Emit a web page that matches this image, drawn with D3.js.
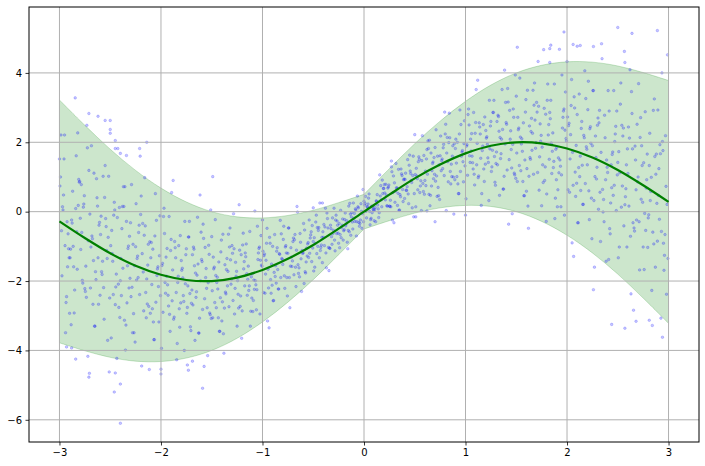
<!DOCTYPE html>
<html>
<head>
<meta charset="utf-8">
<script src="https://cdn.jsdelivr.net/npm/d3@7"></script>
<style>
  body { margin: 0; background: #fff; }
  svg { display: block; font-family: "DejaVu Sans", sans-serif; }
</style>
</head>
<body>
<div id="chart"></div>
<script>
// mean curve and band, every 0.25
const lineX = [-3, -2.75, -2.5, -2.25, -2, -1.75, -1.5, -1.25, -1, -0.75, -0.5, -0.25, 0,
               0.25, 0.5, 0.75, 1, 1.25, 1.5, 1.75, 2, 2.25, 2.5, 2.75, 3];
const lineY = [-0.28, -0.76, -1.2, -1.56, -1.82, -1.97, -2.0, -1.9, -1.68, -1.36, -0.96, -0.49, 0,
               0.49, 0.96, 1.36, 1.68, 1.9, 2.0, 1.97, 1.82, 1.56, 1.2, 0.76, 0.28];
const bandUpper = [3.22, 2.49, 1.8, 1.19, 0.68, 0.28, 0.0, -0.15, -0.18, -0.11, 0.04, 0.26, 0.5,
                   1.24, 1.96, 2.61, 3.18, 3.65, 4.0, 4.22, 4.32, 4.31, 4.2, 4.01, 3.78];
const bandLower = [-3.78, -4.01, -4.2, -4.31, -4.32, -4.22, -4.0, -3.65, -3.18, -2.61, -1.96, -1.24, -0.5,
                   -0.26, -0.04, 0.11, 0.18, 0.15, 0.0, -0.28, -0.68, -1.19, -1.8, -2.49, -3.22];

// scatter samples (estimated from the cloud)
const pointX = [
  -2.97,-2.93,-2.99,-2.91,-2.95,-2.98,-2.92,-2.96,-2.94,-3.00,
  -2.83,-2.89,-2.81,-2.85,-2.88,-2.82,-2.86,-2.84,-2.90,-2.87,
  -2.79,-2.71,-2.75,-2.78,-2.72,-2.76,-2.74,-2.80,-2.77,-2.73,
  -2.61,-2.65,-2.68,-2.62,-2.66,-2.64,-2.70,-2.67,-2.63,-2.69,
  -2.55,-2.58,-2.52,-2.56,-2.54,-2.60,-2.57,-2.53,-2.59,-2.51,
  -2.48,-2.42,-2.46,-2.44,-2.50,-2.47,-2.43,-2.49,-2.41,-2.45,
  -2.32,-2.36,-2.34,-2.40,-2.37,-2.33,-2.39,-2.31,-2.35,-2.38,
  -2.26,-2.24,-2.30,-2.27,-2.23,-2.29,-2.21,-2.25,-2.28,-2.22,
  -2.14,-2.20,-2.17,-2.13,-2.19,-2.11,-2.15,-2.18,-2.12,-2.16,
  -2.10,-2.07,-2.03,-2.09,-2.01,-2.05,-2.08,-2.02,-2.06,-2.04,
  -1.97,-1.93,-1.99,-1.91,-1.95,-1.98,-1.92,-1.96,-1.94,-2.00,
  -1.83,-1.89,-1.81,-1.85,-1.88,-1.82,-1.86,-1.84,-1.90,-1.87,
  -1.79,-1.71,-1.75,-1.78,-1.72,-1.76,-1.74,-1.80,-1.77,-1.73,
  -1.61,-1.65,-1.68,-1.62,-1.66,-1.64,-1.70,-1.67,-1.63,-1.69,
  -1.55,-1.58,-1.52,-1.56,-1.54,-1.60,-1.57,-1.53,-1.59,-1.51,
  -1.48,-1.42,-1.46,-1.44,-1.50,-1.47,-1.43,-1.49,-1.41,-1.45,
  -1.32,-1.36,-1.34,-1.40,-1.37,-1.33,-1.39,-1.31,-1.35,-1.38,
  -1.26,-1.24,-1.30,-1.27,-1.23,-1.29,-1.21,-1.25,-1.28,-1.22,
  -1.14,-1.20,-1.17,-1.13,-1.19,-1.11,-1.15,-1.18,-1.12,-1.16,
  -1.10,-1.07,-1.03,-1.09,-1.01,-1.05,-1.08,-1.02,-1.06,-1.04,
  -0.97,-0.93,-0.99,-0.91,-0.95,-0.98,-0.92,-0.96,-0.94,-1.00,
  -0.83,-0.89,-0.81,-0.85,-0.88,-0.82,-0.86,-0.84,-0.90,-0.87,
  -0.79,-0.71,-0.75,-0.78,-0.72,-0.76,-0.74,-0.80,-0.77,-0.73,
  -0.61,-0.65,-0.68,-0.62,-0.66,-0.64,-0.70,-0.67,-0.63,-0.69,
  -0.55,-0.58,-0.52,-0.56,-0.54,-0.60,-0.57,-0.53,-0.59,-0.51,
  -0.48,-0.42,-0.46,-0.44,-0.50,-0.47,-0.43,-0.49,-0.41,-0.45,
  -0.32,-0.36,-0.34,-0.40,-0.37,-0.33,-0.39,-0.31,-0.35,-0.38,
  -0.26,-0.24,-0.30,-0.27,-0.23,-0.29,-0.21,-0.25,-0.28,-0.22,
  -0.14,-0.20,-0.17,-0.13,-0.19,-0.11,-0.15,-0.18,-0.12,-0.16,
  -0.10,-0.07,-0.03,-0.09,-0.01,-0.05,-0.08,-0.02,-0.06,-0.04,
  0.03,0.07,0.01,0.09,0.05,0.02,0.08,0.04,0.06,0.00,
  0.17,0.11,0.19,0.15,0.12,0.18,0.14,0.16,0.10,0.13,
  0.21,0.29,0.25,0.22,0.28,0.24,0.26,0.20,0.23,0.27,
  0.39,0.35,0.32,0.38,0.34,0.36,0.30,0.33,0.37,0.31,
  0.45,0.42,0.48,0.44,0.46,0.40,0.43,0.47,0.41,0.49,
  0.52,0.58,0.54,0.56,0.50,0.53,0.57,0.51,0.59,0.55,
  0.68,0.64,0.66,0.60,0.63,0.67,0.61,0.69,0.65,0.62,
  0.74,0.76,0.70,0.73,0.77,0.71,0.79,0.75,0.72,0.78,
  0.86,0.80,0.83,0.87,0.81,0.89,0.85,0.82,0.88,0.84,
  0.90,0.93,0.97,0.91,0.99,0.95,0.92,0.98,0.94,0.96,
  1.03,1.07,1.01,1.09,1.05,1.02,1.08,1.04,1.06,1.00,
  1.17,1.11,1.19,1.15,1.12,1.18,1.14,1.16,1.10,1.13,
  1.21,1.29,1.25,1.22,1.28,1.24,1.26,1.20,1.23,1.27,
  1.39,1.35,1.32,1.38,1.34,1.36,1.30,1.33,1.37,1.31,
  1.45,1.42,1.48,1.44,1.46,1.40,1.43,1.47,1.41,1.49,
  1.52,1.58,1.54,1.56,1.50,1.53,1.57,1.51,1.59,1.55,
  1.68,1.64,1.66,1.60,1.63,1.67,1.61,1.69,1.65,1.62,
  1.74,1.76,1.70,1.73,1.77,1.71,1.79,1.75,1.72,1.78,
  1.86,1.80,1.83,1.87,1.81,1.89,1.85,1.82,1.88,1.84,
  1.90,1.93,1.97,1.91,1.99,1.95,1.92,1.98,1.94,1.96,
  2.03,2.07,2.01,2.09,2.05,2.02,2.08,2.04,2.06,2.00,
  2.17,2.11,2.19,2.15,2.12,2.18,2.14,2.16,2.10,2.13,
  2.21,2.29,2.25,2.22,2.28,2.24,2.26,2.20,2.23,2.27,
  2.39,2.35,2.32,2.38,2.34,2.36,2.30,2.33,2.37,2.31,
  2.45,2.42,2.48,2.44,2.46,2.40,2.43,2.47,2.41,2.49,
  2.52,2.58,2.54,2.56,2.50,2.53,2.57,2.51,2.59,2.55,
  2.68,2.64,2.66,2.60,2.63,2.67,2.61,2.69,2.65,2.62,
  2.74,2.76,2.70,2.73,2.77,2.71,2.79,2.75,2.72,2.78,
  2.86,2.80,2.83,2.87,2.81,2.89,2.85,2.82,2.88,2.84,
  2.90,2.93,2.97,2.91,2.99,2.95,2.92,2.98,2.94,2.96,
  -2.945,-2.985,-2.915,-2.965,-2.935,-2.995,-2.905,-2.955,-2.975,-2.925,
  -2.885,-2.815,-2.865,-2.835,-2.895,-2.805,-2.855,-2.875,-2.825,-2.845,
  -2.715,-2.765,-2.735,-2.795,-2.705,-2.755,-2.775,-2.725,-2.745,-2.785,
  -2.665,-2.635,-2.695,-2.605,-2.655,-2.675,-2.625,-2.645,-2.685,-2.615,
  -2.535,-2.595,-2.505,-2.555,-2.575,-2.525,-2.545,-2.585,-2.515,-2.565,
  -2.495,-2.405,-2.455,-2.475,-2.425,-2.445,-2.485,-2.415,-2.465,-2.435,
  -2.305,-2.355,-2.375,-2.325,-2.345,-2.385,-2.315,-2.365,-2.335,-2.395,
  -2.255,-2.275,-2.225,-2.245,-2.285,-2.215,-2.265,-2.235,-2.295,-2.205,
  -2.175,-2.125,-2.145,-2.185,-2.115,-2.165,-2.135,-2.195,-2.105,-2.155,
  -2.025,-2.045,-2.085,-2.015,-2.065,-2.035,-2.095,-2.005,-2.055,-2.075,
  -1.945,-1.985,-1.915,-1.965,-1.935,-1.995,-1.905,-1.955,-1.975,-1.925,
  -1.885,-1.815,-1.865,-1.835,-1.895,-1.805,-1.855,-1.875,-1.825,-1.845,
  -1.715,-1.765,-1.735,-1.795,-1.705,-1.755,-1.775,-1.725,-1.745,-1.785,
  -1.665,-1.635,-1.695,-1.605,-1.655,-1.675,-1.625,-1.645,-1.685,-1.615,
  -1.535,-1.595,-1.505,-1.555,-1.575,-1.525,-1.545,-1.585,-1.515,-1.565,
  -1.495,-1.405,-1.455,-1.475,-1.425,-1.445,-1.485,-1.415,-1.465,-1.435,
  -1.305,-1.355,-1.375,-1.325,-1.345,-1.385,-1.315,-1.365,-1.335,-1.395,
  -1.255,-1.275,-1.225,-1.245,-1.285,-1.215,-1.265,-1.235,-1.295,-1.205,
  -1.175,-1.125,-1.145,-1.185,-1.115,-1.165,-1.135,-1.195,-1.105,-1.155,
  -1.025,-1.045,-1.085,-1.015,-1.065,-1.035,-1.095,-1.005,-1.055,-1.075,
  -0.945,-0.985,-0.915,-0.965,-0.935,-0.995,-0.905,-0.955,-0.975,-0.925,
  -0.885,-0.815,-0.865,-0.835,-0.895,-0.805,-0.855,-0.875,-0.825,-0.845,
  -0.715,-0.765,-0.735,-0.795,-0.705,-0.755,-0.775,-0.725,-0.745,-0.785,
  -0.665,-0.635,-0.695,-0.605,-0.655,-0.675,-0.625,-0.645,-0.685,-0.615,
  -0.535,-0.595,-0.505,-0.555,-0.575,-0.525,-0.545,-0.585,-0.515,-0.565,
  -0.495,-0.405,-0.455,-0.475,-0.425,-0.445,-0.485,-0.415,-0.465,-0.435,
  -0.305,-0.355,-0.375,-0.325,-0.345,-0.385,-0.315,-0.365,-0.335,-0.395,
  -0.255,-0.275,-0.225,-0.245,-0.285,-0.215,-0.265,-0.235,-0.295,-0.205,
  -0.175,-0.125,-0.145,-0.185,-0.115,-0.165,-0.135,-0.195,-0.105,-0.155,
  -0.025,-0.045,-0.085,-0.015,-0.065,-0.035,-0.095,-0.005,-0.055,-0.075,
  0.055,0.015,0.085,0.035,0.065,0.005,0.095,0.045,0.025,0.075,
  0.115,0.185,0.135,0.165,0.105,0.195,0.145,0.125,0.175,0.155,
  0.285,0.235,0.265,0.205,0.295,0.245,0.225,0.275,0.255,0.215,
  0.335,0.365,0.305,0.395,0.345,0.325,0.375,0.355,0.315,0.385,
  0.465,0.405,0.495,0.445,0.425,0.475,0.455,0.415,0.485,0.435,
  0.505,0.595,0.545,0.525,0.575,0.555,0.515,0.585,0.535,0.565,
  0.695,0.645,0.625,0.675,0.655,0.615,0.685,0.635,0.665,0.605,
  0.745,0.725,0.775,0.755,0.715,0.785,0.735,0.765,0.705,0.795,
  0.825,0.875,0.855,0.815,0.885,0.835,0.865,0.805,0.895,0.845,
  0.975,0.955,0.915,0.985,0.935,0.965,0.905,0.995,0.945,0.925,
  1.055,1.015,1.085,1.035,1.065,1.005,1.095,1.045,1.025,1.075,
  1.115,1.185,1.135,1.165,1.105,1.195,1.145,1.125,1.175,1.155,
  1.285,1.235,1.265,1.205,1.295,1.245,1.225,1.275,1.255,1.215,
  1.335,1.365,1.305,1.395,1.345,1.325,1.375,1.355,1.315,1.385,
  1.465,1.405,1.495,1.445,1.425,1.475,1.455,1.415,1.485,1.435,
  1.505,1.595,1.545,1.525,1.575,1.555,1.515,1.585,1.535,1.565,
  1.695,1.645,1.625,1.675,1.655,1.615,1.685,1.635,1.665,1.605,
  1.745,1.725,1.775,1.755,1.715,1.785,1.735,1.765,1.705,1.795,
  1.825,1.875,1.855,1.815,1.885,1.835,1.865,1.805,1.895,1.845,
  1.975,1.955,1.915,1.985,1.935,1.965,1.905,1.995,1.945,1.925,
  2.055,2.015,2.085,2.035,2.065,2.005,2.095,2.045,2.025,2.075,
  2.115,2.185,2.135,2.165,2.105,2.195,2.145,2.125,2.175,2.155,
  2.285,2.235,2.265,2.205,2.295,2.245,2.225,2.275,2.255,2.215,
  2.335,2.365,2.305,2.395,2.345,2.325,2.375,2.355,2.315,2.385,
  2.465,2.405,2.495,2.445,2.425,2.475,2.455,2.415,2.485,2.435,
  2.505,2.595,2.545,2.525,2.575,2.555,2.515,2.585,2.535,2.565,
  2.695,2.645,2.625,2.675,2.655,2.615,2.685,2.635,2.665,2.605,
  2.745,2.725,2.775,2.755,2.715,2.785,2.735,2.765,2.705,2.795,
  2.825,2.875,2.855,2.815,2.885,2.835,2.865,2.805,2.895,2.845,
  2.975,2.955,2.915,2.985,2.935,2.965,2.905,2.995,2.945,2.925,
  -2.46,-2.40,-2.45,-2.71,-2.84,-2.40,-2.00,-1.59,-1.74,-1.73,-1.69,-2.93,-2.88,
  -2.71,-2.62,-2.55,-2.50,-2.50,-2.45,-2.45,-2.40,-2.34,-2.21,-2.14,-1.49,
  1.97,2.50,2.64,2.89,1.84,1.83,2.06,2.10,2.13,2.26,2.57,1.83,1.51,
  2.44,2.57,2.68,2.81,2.94,2.26,
  -0.41,-0.50,0.27,0.70,0.62,0.51
];
const pointY = [
  0.14,-2.45,1.00,-1.07,2.21,-0.55,-1.59,0.48,-3.49,1.52,
  -0.58,-1.08,0.93,-2.26,-0.24,2.27,-1.59,0.09,-2.93,0.59,
  -1.09,1.19,-2.22,-0.60,-4.17,0.22,-1.57,0.87,-2.06,2.49,
  -0.39,-3.30,-0.70,-1.33,1.11,-1.96,-0.07,-2.67,0.40,-1.02,
  1.33,-1.81,-0.74,-3.10,-0.43,-2.41,1.02,-1.35,-0.13,-4.62,
  -1.21,-2.09,0.27,-1.80,2.26,-2.39,-0.17,-3.64,0.12,-2.68,
  -0.99,-3.13,-0.28,-1.99,0.72,-1.56,-2.42,-0.71,-3.99,0.15,
  -1.56,-1.97,-0.32,-2.94,-1.28,0.78,-2.39,-1.01,-3.49,-0.60,
  -1.94,-0.08,-2.86,-1.54,-4.45,-0.87,-2.33,-0.34,-2.73,0.98,
  -1.33,-3.69,-1.59,-2.10,-0.12,-2.61,-1.08,-3.18,-0.70,-1.84,
  0.10,-2.41,-1.55,-3.45,-1.31,-2.90,-0.14,-2.04,-1.06,-4.68,
  -1.86,-2.57,-0.69,-2.33,0.90,-2.80,-1.04,-3.80,-0.80,-3.04,
  -1.63,-3.32,-1.07,-2.42,-0.28,-2.08,-2.76,-1.41,-4.00,-0.73,
  -1.99,-2.31,-1.02,-3.07,-1.77,-0.16,-2.64,-1.56,-3.50,-1.24,
  -2.21,-0.77,-2.92,-1.90,-4.15,-1.38,-2.51,-0.97,-2.82,0.05,
  -1.65,-3.45,-1.84,-2.23,-0.72,-2.62,-1.45,-3.06,-1.16,-2.04,
  -0.47,-2.37,-1.72,-3.15,-1.53,-2.74,-0.65,-2.09,-1.35,-4.08,
  -1.86,-2.38,-0.98,-2.21,0.20,-2.56,-1.24,-3.30,-1.07,-2.73,
  -1.57,-2.86,-1.19,-2.14,-0.62,-1.88,-2.41,-1.44,-3.30,-0.93,
  -1.79,-1.99,-1.02,-2.56,-1.54,-0.42,-2.24,-1.40,-2.83,-1.19,
  -1.80,-0.74,-2.33,-1.51,-3.15,-1.22,-1.96,-0.91,-2.20,-0.24,
  -1.23,-2.56,-1.35,-1.67,-0.66,-1.90,-1.14,-2.23,-1.00,-1.56,
  -0.42,-1.58,-1.20,-2.21,-1.04,-1.90,-0.47,-1.52,-0.98,-2.77,
  -1.12,-1.53,-0.66,-1.36,0.15,-1.62,-0.86,-2.16,-0.63,-1.82,
  -0.89,-1.73,-0.58,-1.28,-0.24,-1.19,-1.45,-0.76,-2.07,-0.40,
  -0.92,-0.96,-0.46,-1.33,-0.86,-0.10,-1.12,-0.75,-1.47,-0.54,
  -0.72,-0.20,-1.05,-0.74,-1.62,-0.39,-0.98,-0.18,-1.03,0.10,
  -0.39,-1.04,-0.54,-0.63,0.04,-0.82,-0.21,-0.91,-0.24,-0.46,
  0.24,-0.55,-0.26,-0.68,-0.23,-0.50,0.16,-0.41,-0.03,-1.07,
  -0.19,-0.29,0.23,-0.28,0.64,-0.31,0.05,-0.48,0.14,-0.34,
  0.14,-0.19,0.24,0.07,0.51,0.01,-0.03,0.22,-0.38,0.30,
  0.34,0.12,0.67,-0.03,0.31,0.91,0.08,0.45,-0.26,0.49,
  0.34,1.03,0.16,0.48,-0.24,0.71,0.33,0.78,0.16,1.29,
  0.92,0.05,0.69,0.64,1.22,0.43,0.83,0.18,1.09,0.59,
  1.63,0.61,1.04,0.23,1.10,0.38,1.50,0.84,1.11,-0.15,
  1.03,0.81,1.58,0.89,2.22,0.63,1.47,0.14,1.62,0.55,
  1.43,0.50,1.69,0.90,2.04,1.18,0.75,1.56,0.17,1.79,
  1.35,1.18,1.85,0.70,1.52,2.36,1.04,1.61,0.44,1.84,
  1.37,2.24,0.86,1.60,0.03,1.96,1.16,2.14,1.00,2.84,
  1.82,0.52,1.76,1.40,2.62,1.16,2.00,0.86,2.24,1.60,
  2.96,1.41,1.89,0.77,2.09,1.05,2.86,1.61,2.25,-0.10,
  1.89,1.35,2.73,1.54,3.79,1.23,2.44,0.52,2.57,1.03,
  2.16,0.85,2.60,1.55,3.21,1.81,1.29,2.34,0.32,2.86,
  1.95,1.67,2.78,1.02,2.14,3.52,1.39,2.32,0.65,2.60,
  1.79,3.16,1.11,2.09,-0.06,2.57,1.50,2.96,1.20,3.94,
  2.36,0.46,2.15,1.74,3.33,1.33,2.56,0.87,2.87,1.95,
  3.71,1.51,2.26,0.59,2.47,1.08,3.50,1.83,2.69,-0.48,
  2.03,1.35,3.15,1.58,4.67,1.13,2.81,0.17,3.04,0.90,
  2.27,0.51,2.86,1.45,3.68,1.80,1.10,2.51,-0.20,3.21,
  1.86,1.49,2.96,0.63,2.11,3.94,1.12,2.35,0.14,2.72,
  1.52,3.31,0.63,1.91,-0.90,2.55,1.14,3.06,0.76,4.33,
  2.13,-0.32,1.87,1.34,3.39,0.81,2.40,0.21,2.80,1.60,
  3.76,0.94,1.90,-0.23,2.18,0.39,3.49,1.35,2.45,-1.60,
  1.49,0.64,2.92,0.92,4.84,0.35,2.49,-0.86,2.78,0.07,
  1.72,-0.49,2.46,0.69,3.49,1.13,0.25,2.02,-1.38,2.90,
  1.12,0.66,2.49,-0.41,1.42,3.71,0.20,1.73,-1.02,2.18,
  0.63,2.83,-0.47,1.10,-2.37,1.89,0.16,2.52,-0.32,4.09,
  1.33,-1.67,1.00,0.36,2.88,-0.29,1.66,-1.02,2.14,0.68,
  3.25,-0.18,0.99,-1.60,1.33,-0.85,2.92,0.32,1.66,-3.28,
  0.47,-0.57,2.19,-0.22,4.52,-0.91,1.67,-2.38,2.02,-1.26,
  -0.98,2.21,-0.64,0.05,-2.62,0.74,-1.33,1.52,-1.85,-0.29,
  -3.26,0.18,-1.00,1.61,-1.33,0.85,-2.92,-0.33,-1.66,3.28,
  -0.84,0.13,-2.47,-0.19,-4.66,0.46,-1.98,1.84,-2.30,0.78,
  -1.41,0.95,-2.20,-0.31,-3.30,-0.78,0.16,-1.73,1.90,-2.67,
  -1.12,-0.66,-2.49,0.41,-1.43,-3.71,-0.20,-1.73,1.02,-2.19,
  -0.98,-3.05,0.05,-1.43,1.82,-2.17,-0.54,-2.76,-0.10,-4.23,
  -1.92,0.72,-1.63,-1.06,-3.27,-0.49,-2.20,0.15,-2.63,-1.35,
  -3.76,-0.94,-1.90,0.23,-2.18,-0.39,-3.49,-1.35,-2.45,1.60,
  -1.74,-0.94,-3.06,-1.21,-4.55,-0.68,-2.66,0.45,-2.93,-0.41,
  -2.16,-0.25,-2.80,-1.27,-3.69,-1.65,-0.89,-2.42,0.52,-3.18,
  -1.86,-1.49,-2.96,-0.63,-2.11,-3.94,-1.12,-2.35,-0.14,-2.72,
  -1.68,-3.33,-0.86,-2.04,0.55,-2.63,-1.33,-3.10,-0.98,-4.27,
  -2.36,-0.28,-2.14,-1.69,-3.43,-1.24,-2.59,-0.73,-2.93,-1.91,
  -3.71,-1.51,-2.26,-0.59,-2.47,-1.08,-3.50,-1.83,-2.69,0.48,
  -2.05,-1.44,-3.08,-1.64,-4.46,-1.23,-2.77,-0.36,-2.97,-1.03,
  -2.28,-0.82,-2.77,-1.60,-3.45,-1.89,-1.31,-2.48,-0.23,-3.06,
  -1.95,-1.67,-2.78,-1.02,-2.14,-3.52,-1.39,-2.32,-0.65,-2.60,
  -1.72,-2.95,-1.11,-1.99,-0.06,-2.43,-1.46,-2.78,-1.20,-3.65,
  -2.14,-0.57,-1.95,-1.65,-2.87,-1.30,-2.27,-0.96,-2.49,-1.79,
  -2.95,-1.38,-1.97,-0.69,-2.11,-1.06,-2.88,-1.57,-2.25,0.02,
  -1.66,-1.27,-2.35,-1.40,-3.35,-1.14,-2.12,-0.48,-2.35,-0.91,
  -1.75,-0.64,-2.06,-1.21,-2.57,-1.37,-1.04,-1.87,-0.25,-2.23,
  -1.31,-1.19,-1.90,-0.80,-1.42,-2.43,-1.02,-1.57,-0.47,-1.85,
  -1.11,-1.88,-0.76,-1.20,-0.01,-1.60,-0.88,-1.78,-0.81,-2.30,
  -1.20,-0.34,-1.05,-0.93,-1.77,-0.67,-1.32,-0.53,-1.44,-1.05,
  -1.71,-0.58,-1.00,-0.30,-1.03,-0.46,-1.60,-0.74,-1.21,0.25,
  -0.63,-0.47,-1.19,-0.49,-1.70,-0.44,-0.94,-0.04,-1.06,-0.37,
  -0.62,-0.10,-0.75,-0.34,-1.13,-0.39,-0.27,-0.66,0.10,-0.82,
  -0.35,-0.15,-0.58,-0.04,-0.30,-0.88,-0.07,-0.52,0.25,-0.54,
  0.01,-0.42,0.08,-0.06,0.45,-0.24,-0.05,-0.29,0.11,-0.70,
  0.01,0.44,0.13,0.14,-0.23,0.19,0.04,0.39,-0.18,0.16,
  -0.29,0.52,0.19,0.75,0.06,0.67,-0.17,0.30,0.14,1.06,
  0.55,0.68,0.14,0.54,-0.32,0.77,0.17,1.15,0.15,0.79,
  0.53,1.23,0.27,0.94,0.04,0.68,1.04,0.49,1.39,0.29,
  0.90,0.93,0.52,1.34,0.72,0.11,1.17,0.62,1.60,0.51,
  1.07,0.50,1.51,0.95,2.19,0.74,1.25,0.58,1.44,0.03,
  1.08,2.06,1.08,1.39,0.47,1.52,0.95,1.82,0.74,1.17,
  0.35,1.60,1.24,2.18,1.03,1.94,0.46,1.47,0.88,2.87,
  1.44,1.90,0.80,1.69,-0.07,1.99,1.01,2.52,0.92,2.13,
  1.44,2.51,1.01,1.96,0.52,1.72,2.09,1.32,2.93,0.80,
  1.75,1.93,1.08,2.50,1.60,0.37,2.26,1.42,2.80,1.23,
  1.97,0.87,2.56,1.76,3.52,1.37,2.24,0.98,2.51,0.18,
  1.59,3.21,1.77,2.12,0.76,2.47,1.42,2.86,1.16,1.94,
  0.47,2.37,1.72,3.15,1.53,2.74,0.65,2.09,1.35,4.08,
  1.94,2.52,0.96,2.33,-0.36,2.72,1.26,3.55,1.06,2.92,
  1.69,3.23,1.18,2.41,0.46,2.10,2.72,1.49,3.85,0.87,
  1.99,2.31,1.02,3.07,1.77,0.16,2.64,1.56,3.50,1.24,
  2.20,0.62,2.98,1.86,4.33,1.29,2.53,0.84,2.87,-0.28,
  1.51,3.68,1.74,2.21,0.39,2.68,1.27,3.21,0.92,1.98,
  -0.10,2.41,1.55,3.45,1.31,2.90,0.14,2.04,1.06,4.68,
  1.71,2.48,0.44,2.22,-1.29,2.73,0.82,3.81,0.56,2.99,
  1.27,3.26,0.61,2.20,-0.32,1.80,2.60,1.01,4.06,0.21,
  1.56,1.97,0.32,2.94,1.28,-0.78,2.39,1.01,3.49,0.60,
  1.71,-0.29,2.70,1.28,4.41,0.56,2.13,-0.01,2.56,-1.43,
  0.76,3.49,1.06,1.65,-0.64,2.24,0.47,2.90,0.03,1.35,
  -1.33,1.81,0.74,3.10,0.43,2.41,-1.02,1.35,0.13,4.62,
  0.86,1.81,-0.71,1.49,-2.84,2.12,-0.24,3.46,-0.56,2.44,
  0.27,2.71,-0.54,1.41,-1.68,0.92,1.90,-0.05,3.69,-1.03,
  0.58,1.08,-0.93,2.26,0.24,-2.27,1.59,-0.09,2.93,-0.59,
  0.73,-1.69,1.93,0.21,4.00,-0.66,1.24,-1.35,1.76,-3.07,
  -5.20,-4.97,-4.65,-4.77,-4.25,-6.10,-4.54,-5.09,-4.42,-4.57,-4.31,-3.90,-3.93,
  2.83,2.75,2.63,2.63,2.37,2.05,1.82,1.68,1.62,1.82,2.00,1.01,
  5.18,5.31,5.14,5.22,4.80,4.70,4.82,4.77,4.79,4.76,4.30,4.30,4.74,
  -3.25,-3.36,-3.16,-3.13,-3.62,-2.25,
  0.25,0.11,1.46,-0.29,0.02,-0.15
];

const xTicks = [-3, -2, -1, 0, 1, 2, 3];
const yTicks = [-6, -4, -2, 0, 2, 4];

const width = 705, height = 466;
const margin = {top: 7, right: 6, bottom: 24, left: 29};

const x = d3.scaleLinear().domain([-3.3, 3.3]).range([margin.left, width - margin.right]);
const y = d3.scaleLinear().domain([-6.64, 5.9]).range([height - margin.bottom, margin.top]);

const svg = d3.select("#chart").append("svg")
    .attr("width", width)
    .attr("height", height);

// band: drawn as one path, split at 0 so the corner stays sharp
const bandLine = d3.line().x(d => x(d[0])).y(d => y(d[1])).curve(d3.curveCatmullRom);
const mid = lineX.indexOf(0);
const seg = (xs, ys) => bandLine(xs.map((v, i) => [v, ys[i]]));
const parts = [
    seg(lineX.slice(0, mid + 1), bandUpper.slice(0, mid + 1)),
    seg(lineX.slice(mid), bandUpper.slice(mid)),
    seg(lineX.slice(mid).reverse(), bandLower.slice(mid).reverse()),
    seg(lineX.slice(0, mid + 1).reverse(), bandLower.slice(0, mid + 1).reverse())
];
const bandPath = parts.map((p, i) => i ? "L" + p.slice(1) : p).join("") + "Z";

svg.append("path")
    .attr("d", bandPath)
    .attr("fill", "green")
    .attr("fill-opacity", 0.2)
    .attr("stroke", "green")
    .attr("stroke-opacity", 0.2)
    .attr("stroke-width", 1);

svg.append("g")
    .selectAll("circle")
    .data(pointX.map((v, i) => [v, pointY[i]]))
    .join("circle")
    .attr("cx", d => x(d[0]))
    .attr("cy", d => y(d[1]))
    .attr("r", 1.3)
    .attr("fill", "blue")
    .attr("fill-opacity", 0.22)
    .attr("stroke", "blue")
    .attr("stroke-opacity", 0.22)
    .attr("stroke-width", 0.8);

// grid
const grid = svg.append("g").attr("stroke", "#b0b0b0").attr("stroke-width", 1);
grid.selectAll("line.vx")
    .data(xTicks)
    .join("line")
    .attr("class", "vx")
    .attr("x1", d => x(d)).attr("x2", d => x(d))
    .attr("y1", margin.top).attr("y2", height - margin.bottom);
grid.selectAll("line.hy")
    .data(yTicks)
    .join("line")
    .attr("class", "hy")
    .attr("x1", margin.left).attr("x2", width - margin.right)
    .attr("y1", d => y(d)).attr("y2", d => y(d));

// mean line
svg.append("path")
    .attr("d", d3.line().x(d => x(d[0])).y(d => y(d[1])).curve(d3.curveCatmullRom)(lineX.map((v, i) => [v, lineY[i]])))
    .attr("fill", "none")
    .attr("stroke", "green")
    .attr("stroke-width", 2.2);

// axes
const xAxis = svg.append("g")
    .attr("transform", `translate(0,${height - margin.bottom})`)
    .call(d3.axisBottom(x).tickValues(xTicks).tickFormat(d3.format("d")).tickSize(3.5).tickPadding(3.5).tickSizeOuter(0));
const yAxis = svg.append("g")
    .attr("transform", `translate(${margin.left},0)`)
    .call(d3.axisLeft(y).tickValues(yTicks).tickFormat(d3.format("d")).tickSize(3.5).tickPadding(3.5).tickSizeOuter(0));
[xAxis, yAxis].forEach(a => {
    a.select(".domain").remove();
    a.selectAll("text").attr("font-size", 10).attr("font-family", "DejaVu Sans").attr("fill", "#000");
    a.selectAll("line").attr("stroke", "#000").attr("stroke-width", 0.8);
});

svg.append("rect")
    .attr("x", margin.left)
    .attr("y", margin.top)
    .attr("width", width - margin.left - margin.right)
    .attr("height", height - margin.top - margin.bottom)
    .attr("fill", "none")
    .attr("stroke", "#000")
    .attr("stroke-width", 1);
</script>
</body>
</html>
